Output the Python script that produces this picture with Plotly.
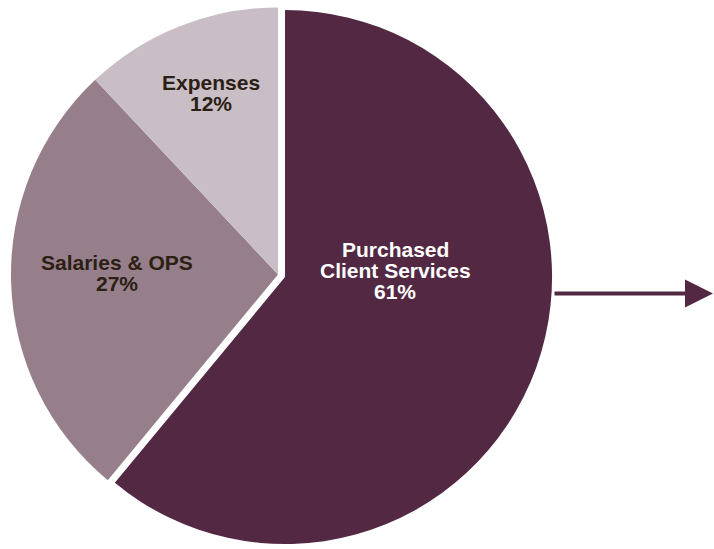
import plotly.graph_objects as go

# Budget breakdown
labels = ["Purchased<br>Client Services", "Salaries & OPS", "Expenses"]
values = [61, 27, 12]
colors = ["#522843", "#967F8B", "#C9BEC6"]
text_colors = ["#FFFFFF", "#2B2013", "#2B2013"]
pulls = [0.028, 0, 0]

W, H = 714, 549
FONT = "Liberation Sans, Arial, sans-serif"

fig = go.Figure(
    go.Pie(
        labels=labels,
        values=values,
        sort=False,
        direction="clockwise",
        rotation=0,
        pull=pulls,
        marker=dict(colors=colors, line=dict(width=0)),
        textinfo="none",
        hoverinfo="skip",
        domain=dict(x=[0, 556 / W], y=[0, 1]),
        showlegend=False,
    )
)

# Slice captions, set line by line for tight leading
label_centers = [(395, 270), (117, 273), (211, 93)]
line_gap = 21
total = sum(values)
for label, v, tc, (cx, cy) in zip(labels, values, text_colors, label_centers):
    lines = label.split("<br>") + [f"{round(100 * v / total)}%"]
    n = len(lines)
    for i, line in enumerate(lines):
        y_px = cy + (i - (n - 1) / 2) * line_gap
        fig.add_annotation(
            x=cx / W, y=1 - y_px / H, xref="paper", yref="paper",
            text=f"<b>{line}</b>", showarrow=False,
            xanchor="center", yanchor="middle",
            font=dict(family=FONT, size=21, color=tc),
        )

# Arrow leading off to the right of the main slice
fig.add_annotation(
    x=713 / W, y=1 - 293.5 / H, xref="paper", yref="paper",
    ax=-160, ay=0, text="", showarrow=True,
    arrowhead=2, arrowsize=1.4, arrowwidth=4, arrowcolor="#522843",
)

fig.update_layout(
    width=W, height=H,
    margin=dict(l=0, r=0, t=0, b=0),
    paper_bgcolor="white", plot_bgcolor="white",
)

fig.write_html("out.html")
